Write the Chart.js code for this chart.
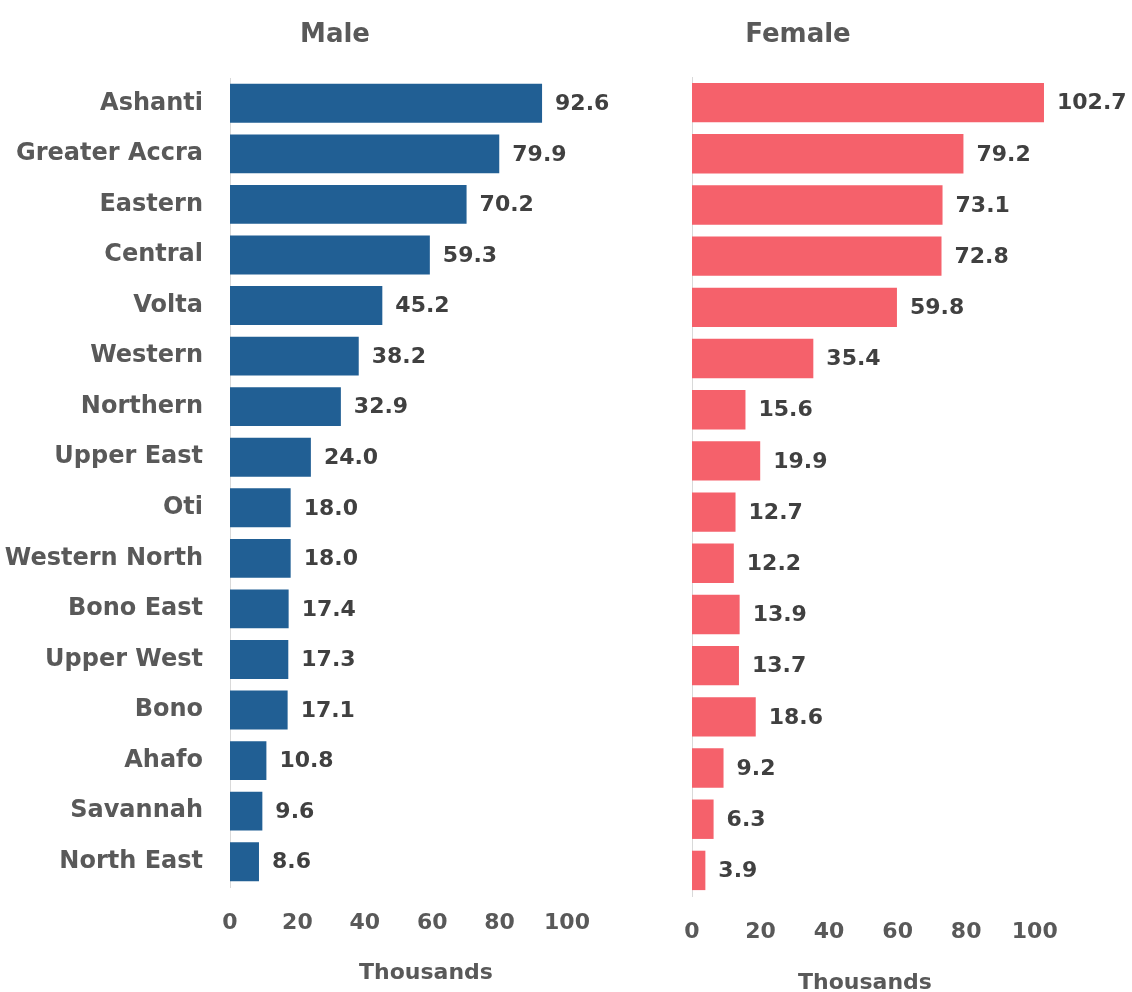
<!DOCTYPE html>
<html>
<head>
<meta charset="utf-8">
<script src="https://cdn.jsdelivr.net/npm/chart.js"></script>
<style>
  body { margin: 0; background: #fff; }
  #page { position: relative; width: 1132px; height: 992px; overflow: hidden; }
  canvas { position: absolute; top: 0; }
  .label { position: absolute; transform: translate(-50%, -50%); font-family: "DejaVu Sans"; font-weight: bold; color: #595959; white-space: nowrap; }
  .title { font-size: 26px; }
  .axis { font-size: 22px; }
</style>
</head>
<body>
<div id="page">
  <canvas id="maleChart" width="640" height="992" style="left:0"></canvas>
  <canvas id="femaleChart" width="492" height="992" style="left:640px"></canvas>
  <div class="label title" style="left:335px; top:33px">Male</div>
  <div class="label title" style="left:798px; top:33px">Female</div>
  <div class="label axis" style="left:426px; top:971px">Thousands</div>
  <div class="label axis" style="left:865px; top:981px">Thousands</div>
</div>
<script>
// regions, top to bottom
const regions = ['Ashanti', 'Greater Accra', 'Eastern', 'Central', 'Volta', 'Western', 'Northern', 'Upper East',
    'Oti', 'Western North', 'Bono East', 'Upper West', 'Bono', 'Ahafo', 'Savannah', 'North East'];
// values in thousands
const maleValues = [92.6, 79.9, 70.2, 59.3, 45.2, 38.2, 32.9, 24.0, 18.0, 18.0, 17.4, 17.3, 17.1, 10.8, 9.6, 8.6];
const femaleValues = [102.7, 79.2, 73.1, 72.8, 59.8, 35.4, 15.6, 19.9, 12.7, 12.2, 13.9, 13.7, 18.6, 9.2, 6.3, 3.9];
const xTicks = [0, 20, 40, 60, 80, 100];

Chart.defaults.font.family = 'DejaVu Sans';
Chart.defaults.color = '#595959';

// draws the value next to each bar
const valueLabels = {
    id: 'valueLabels',
    afterDatasetsDraw(chart) {
        const ctx = chart.ctx;
        const data = chart.data.datasets[0].data;
        ctx.save();
        ctx.font = 'bold 22px "DejaVu Sans"';
        ctx.fillStyle = '#404040';
        ctx.textAlign = 'left';
        ctx.textBaseline = 'middle';
        chart.getDatasetMeta(0).data.forEach((bar, i) => {
            ctx.fillText(data[i].toFixed(1), bar.x + 13, bar.y + 1);
        });
        ctx.restore();
    }
};

function makeChart(id, values, color, opts) {
    return new Chart(document.getElementById(id), {
        type: 'bar',
        data: {
            labels: regions,
            datasets: [{
                data: values,
                backgroundColor: color,
                categoryPercentage: 1,
                barPercentage: 0.77
            }]
        },
        options: {
            indexAxis: 'y',
            responsive: false,
            animation: false,
            layout: { padding: opts.padding },
            plugins: { legend: { display: false }, tooltip: { enabled: false } },
            scales: {
                x: {
                    min: 0,
                    max: opts.max,
                    grid: { display: false },
                    border: { display: false },
                    afterBuildTicks: scale => { scale.ticks = xTicks.map(v => ({ value: v })); },
                    afterFit: scale => { scale.height = 50; },
                    ticks: {
                        autoSkip: false,
                        maxRotation: 0,
                        padding: 15,
                        font: { size: 22, weight: 'bold' },
                        color: '#595959'
                    }
                },
                y: {
                    grid: { display: false, drawTicks: false },
                    border: { display: true, color: '#d9d9d9', width: 1 },
                    afterFit: scale => { scale.width = opts.yWidth; },
                    ticks: {
                        display: opts.showLabels,
                        padding: 27,
                        font: { size: 24, weight: 'bold' },
                        color: '#595959'
                    }
                }
            }
        },
        plugins: [valueLabels]
    });
}

makeChart('maleChart', maleValues, '#215f94', {
    max: 100, yWidth: 230, showLabels: true,
    padding: { top: 78, bottom: 55, left: 0, right: 73 }
});
makeChart('femaleChart', femaleValues, '#f5616b', {
    max: 110, yWidth: 0, showLabels: false,
    padding: { top: 77, bottom: 46, left: 52, right: 63 }
});
</script>
</body>
</html>
